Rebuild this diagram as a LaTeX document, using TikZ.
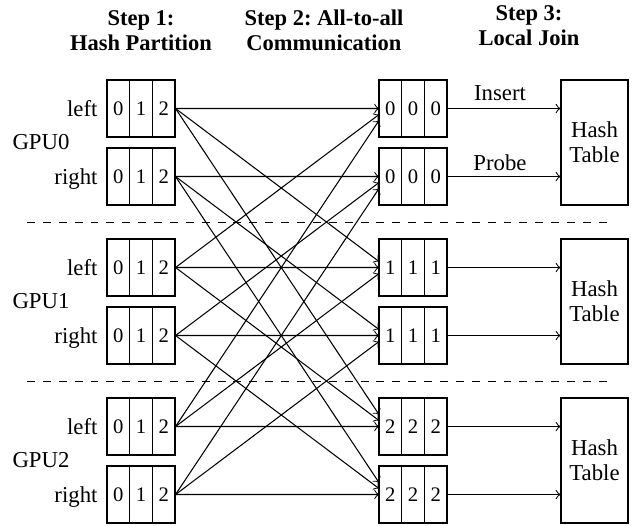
\documentclass[tikz,border=0pt]{standalone}
\usepackage{fontspec}
\setmainfont{Liberation Serif}
\usetikzlibrary{calc}
\frenchspacing
\begin{document}
\begin{tikzpicture}[x=0.37774pt, y=-0.37774pt,
  txt/.style={font=\fontsize{8.6pt}{9.44pt}\selectfont, inner sep=0pt},
  cell/.style={inner sep=0pt, font=\fontsize{7.8pt}{9pt}\selectfont, draw, minimum width={22.67*0.37774pt}, minimum height={57*0.37774pt}},
  hashbox/.style={txt, draw, align=center, minimum width={67*0.37774pt}, minimum height={125*0.37774pt}},
  hdr/.style={inner sep=0pt, font=\fontsize{8.5pt}{9.44pt}\selectfont\bfseries, align=center},
  conn/.style={->},
  sepline/.style={dashed}]
\useasboundingbox (0,0) rectangle (638,525);

% headers
\node[hdr] (h1) at (141,30.5) {Step 1:\\Hash Partition};
\node[hdr] (h2) at (324,30.5) {Step 2: All-to-all\\Communication};
\node[hdr] (h3) at (529,26) {Step 3:\\Local Join};

% boxes
\foreach \g in {0,1,2} {
  \foreach \s/\off/\word in {l/0/left, r/68/right} {
    \pgfmathsetmacro\ry{108.5+159*\g+\off}
    \foreach \k/\cx in {0/118.33,1/141,2/163.67}
      \node[cell] (L-\g-\s-\k) at (\cx,\ry) {\k};
    \foreach \k/\cx in {0/390.33,1/413,2/435.67}
      \node[cell] (M-\g-\s-\k) at (\cx,\ry) {\g};
    \coordinate (A-\g-\s) at (387,\ry);
    \node[txt, anchor=base east] (W-\g-\s) at (98,\ry+7.5) {\word};
  }
  \pgfmathsetmacro\hy{142.5+159*\g}
  \node[hashbox] (H-\g) at (594.5,\hy) {Hash\\Table};
  \node[txt, anchor=west] (G-\g) at (12,\hy) {GPU\g};
}

% all-to-all connectors
\foreach \g in {0,1,2}
  \foreach \h in {0,1,2}
    \foreach \s in {l,r}
      \draw[conn] (L-\g-\s-2.east) -- ($(L-\g-\s-2.east)!0.9623!(A-\h-\s)$);

% to hash tables
\foreach \h in {0,1,2}
  \foreach \s in {l,r}
    \draw[conn] (M-\h-\s-2.east) -- (M-\h-\s-2.east -| H-\h.west);

\node[txt] (ins) at (500,93) {Insert};
\node[txt] (prb) at (500,163) {Probe};

% separators
\coordinate (s1a) at (27,222.5);
\coordinate (s1b) at (613,222.5);
\coordinate (s2a) at (27,381.5);
\coordinate (s2b) at (613,381.5);
\draw[sepline] (s1a) -- (s1b);
\draw[sepline] (s2a) -- (s2b);
\end{tikzpicture}
\end{document}
